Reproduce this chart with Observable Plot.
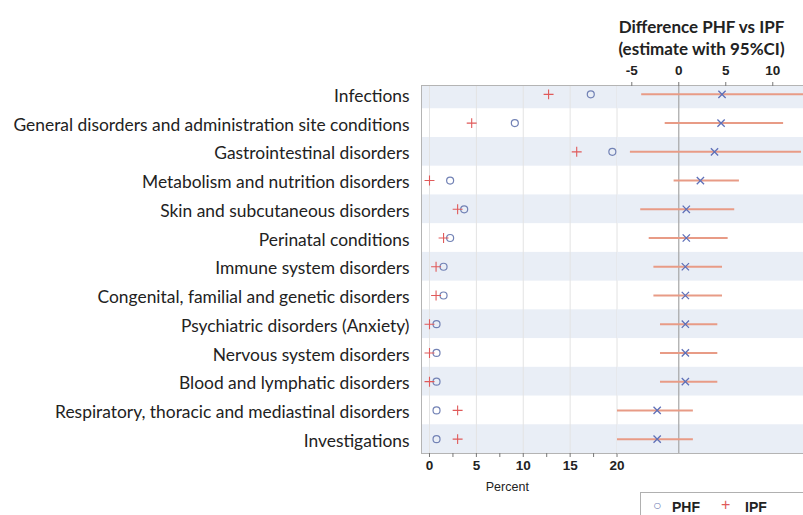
<!DOCTYPE html>
<html>
<head>
<meta charset="utf-8">
<script src="https://cdn.jsdelivr.net/npm/d3@7"></script>
<script src="https://cdn.jsdelivr.net/npm/@observablehq/plot@0.6"></script>
<style>
  html, body { margin: 0; padding: 0; background: #fff; }
  #wrap { position: relative; width: 803px; height: 515px; overflow: hidden; }
  #left, #right { position: absolute; top: 0; }
  #left { left: 0; }
  #right { left: 617px; }
  #left svg { overflow: visible; }
  #title { position: absolute; left: 600px; width: 203px; top: 16px; text-align: center;
           font-family: Lato, sans-serif; font-weight: bold; font-size: 17px; line-height: 22px; color: #222; }
  #legend { position: absolute; left: 640px; top: 492px; width: 180px; height: 30px;
            border: 1px solid #b0b0b0; font-family: "Liberation Sans", Arial, sans-serif;
            font-weight: bold; font-size: 14px; color: #222; }
  #legend span { position: absolute; top: 6px; }
</style>
</head>
<body>
<div id="wrap">
  <div id="left"></div>
  <div id="right"></div>
  <div id="title">Difference PHF vs IPF<br>(estimate with 95%CI)</div>
  <div id="legend">
    <span style="left:12px;color:#7282b5;font-weight:normal;font-size:14px;top:4px">○</span>
    <span style="left:31px">PHF</span>
    <span style="left:80px;color:#e05a5a;font-weight:normal;font-size:16px;top:3px">+</span>
    <span style="left:104px">IPF</span>
  </div>
</div>
<script>
const categories = [
  "Infections",
  "General disorders and administration site conditions",
  "Gastrointestinal disorders",
  "Metabolism and nutrition disorders",
  "Skin and subcutaneous disorders",
  "Perinatal conditions",
  "Immune system disorders",
  "Congenital, familial and genetic disorders",
  "Psychiatric disorders (Anxiety)",
  "Nervous system disorders",
  "Blood and lymphatic disorders",
  "Respiratory, thoracic and mediastinal disorders",
  "Investigations"
];
const phfPercent = [17.2, 9.1, 19.5, 2.2, 3.7, 2.2, 1.5, 1.5, 0.75, 0.75, 0.75, 0.75, 0.75];
const ipfPercent = [12.7, 4.5, 15.7, 0.0, 3.0, 1.5, 0.7, 0.7, 0.0, 0.0, 0.0, 3.0, 3.0];
const diffEstimate = [4.6, 4.5, 3.8, 2.3, 0.8, 0.8, 0.7, 0.7, 0.7, 0.7, 0.7, -2.3, -2.3];
const diffLower = [-4.0, -1.5, -5.2, -0.55, -4.1, -3.2, -2.7, -2.7, -2.0, -2.0, -2.0, -6.8, -6.8];
const diffUpper = [14.0, 11.1, 13.0, 6.4, 5.9, 5.2, 4.6, 4.6, 4.1, 4.1, 4.1, 1.5, 1.5];
const percentTicks = [0, 2.5, 5, 7.5, 10, 12.5, 15, 17.5, 20];
const percentGrid = [0, 5, 10, 15, 20];
const diffTicks = [-5, 0, 5, 10];

const rows = categories.map((c, i) => ({
  cat: c, i, phf: phfPercent[i], ipf: ipfPercent[i],
  est: diffEstimate[i], lo: diffLower[i], hi: diffUpper[i]
}));
const shaded = rows.filter(d => d.i % 2 === 0);

const bandFill = "#e9eef6";
const frameStroke = "#b4b4b4";
const yScale = {domain: categories, range: [79.5, 453], padding: 0, round: false};

const left = Plot.plot({
  width: 617, height: 515,
  marginLeft: 421, marginRight: 0, marginTop: 85, marginBottom: 62,
  style: {fontFamily: "Lato, sans-serif", background: "transparent", overflow: "visible"},
  x: {domain: [-0.853, 20.05]},
  y: yScale,
  marks: [
    Plot.cell(shaded, {y: "cat", fill: bandFill, clip: true}),
    Plot.ruleX(percentGrid, {stroke: "#e3e3e3", strokeWidth: 1}),
    Plot.frame({anchor: "top", stroke: frameStroke}),
    Plot.frame({anchor: "bottom", stroke: frameStroke}),
    Plot.frame({anchor: "left", stroke: frameStroke}),
    Plot.axisY({tickSize: 0, tickPadding: 12, dy: 2, fontSize: 17.4, fontFamily: "Lato, sans-serif", fill: "#222", label: null}),
    Plot.axisX({anchor: "bottom", ticks: percentTicks, tickSize: 4, tickPadding: 3,
      tickFormat: d => (d % 5 === 0 ? String(d) : ""),
      fontSize: 13.5, fontWeight: "bold", fontFamily: "Liberation Sans, Arial, sans-serif",
      stroke: "#777", fill: "#222", label: null}),
    Plot.text(["Percent"], {frameAnchor: "bottom", x: 8.3, dy: 37, fontSize: 12.5,
      fontFamily: "Liberation Sans, Arial, sans-serif", fill: "#222"}),
    Plot.dot(rows, {x: "phf", y: "cat", symbol: "circle", r: 3.5, stroke: "#7282b5", strokeWidth: 1.2, fill: "none"}),
    Plot.dot(rows, {x: "ipf", y: "cat", symbol: "plus", r: 3.3, stroke: "#e05a5a", strokeWidth: 1.1})
  ]
});
document.getElementById("left").appendChild(left);

const right = Plot.plot({
  width: 186, height: 515,
  marginLeft: 0, marginRight: 0, marginTop: 85, marginBottom: 62,
  style: {fontFamily: "Lato, sans-serif", background: "transparent", overflow: "visible"},
  x: {domain: [-6.52, 13.27]},
  y: {...yScale, axis: null},
  marks: [
    Plot.cell(shaded, {y: "cat", fill: bandFill, clip: true}),
    Plot.ruleX([0], {stroke: "#a6a6a6", strokeWidth: 1.2}),
    Plot.frame({anchor: "top", stroke: frameStroke}),
    Plot.frame({anchor: "bottom", stroke: frameStroke}),
    Plot.axisX({anchor: "top", ticks: diffTicks, tickSize: 4, tickPadding: 7,
      tickFormat: d => String(d),
      fontSize: 13.5, fontWeight: "bold", fontFamily: "Liberation Sans, Arial, sans-serif",
      stroke: "#777", fill: "#222", label: null}),
    Plot.link(rows, {x1: "lo", x2: "hi", y1: "cat", y2: "cat", stroke: "#e89b86", strokeWidth: 2, clip: true}),
    Plot.dot(rows, {x: "est", y: "cat", symbol: "times", r: 3.4, stroke: "#5f70b8", strokeWidth: 1.3})
  ]
});
document.getElementById("right").appendChild(right);
</script>
</body>
</html>
